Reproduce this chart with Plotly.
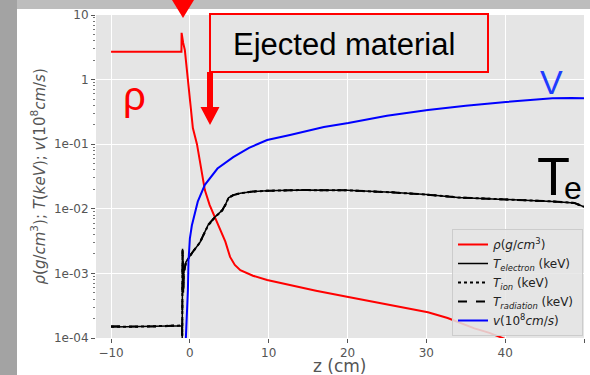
import plotly.graph_objects as go

# ---------------- data ----------------
z_rho = [-10, -1.07, -1.05, -0.98, -0.85, -0.64, -0.25, 0.38, 0.9, 1.4, 1.9, 2.5, 3.2, 3.7,
         4.1, 4.5, 5.1, 5.7, 6.4, 8.0, 9.8, 12.7, 16, 20.1, 25, 30.2, 32.7, 34.5, 36.1,
         38, 39.7, 42, 46, 50]
rho = [2.7, 2.7, 5.3, 4.6, 3.7, 2.87, 1.0, 0.178, 0.1, 0.045, 0.0195, 0.0115, 0.0072, 0.0052,
       0.0039, 0.0031, 0.0018, 0.00135, 0.00112, 0.00092, 0.00079, 0.00066, 0.00054, 0.00043,
       0.00033, 0.00025, 0.000204, 0.00017, 0.000141, 0.00012, 0.0001, 8e-5, 5e-5, 3e-5]

z_T = [-10, -7, -4, -2, -1.0, -0.97, -0.93, -0.9, -0.87, -0.82, -0.78, -0.7, -0.5, 0.3, 1.27,
       2.3, 3.2, 4.1, 4.5, 4.9, 5.5, 6.4, 8, 9.8, 14, 20, 25.5, 30, 34, 38, 42.4, 46, 48.8, 50]
T_electron = [1.48e-4, 1.5e-4, 1.52e-4, 1.55e-4, 1.55e-4, 1.0e-4, 2.4e-3, 2.0e-4, 1.2e-3, 5e-4,
              1.3e-3, 1.1e-3, 1.5e-3, 2.1e-3, 3.0e-3, 5.6e-3, 7.5e-3, 9.5e-3, 1.15e-2, 1.48e-2,
              1.63e-2, 1.74e-2, 1.85e-2, 1.9e-2, 1.95e-2, 1.93e-2, 1.8e-2, 1.66e-2, 1.5e-2,
              1.43e-2, 1.38e-2, 1.3e-2, 1.23e-2, 1.07e-2]
T_ion = [1.5e-4, 1.49e-4, 1.53e-4, 1.54e-4, 1.56e-4, 1.1e-4, 2.2e-3, 2.5e-4, 1.1e-3, 6e-4,
         1.25e-3, 1.15e-3, 1.48e-3, 2.1e-3, 3.0e-3, 5.5e-3, 7.4e-3, 9.4e-3, 1.14e-2, 1.47e-2,
         1.63e-2, 1.74e-2, 1.85e-2, 1.9e-2, 1.95e-2, 1.93e-2, 1.8e-2, 1.66e-2, 1.5e-2,
         1.43e-2, 1.38e-2, 1.3e-2, 1.23e-2, 1.07e-2]
T_radiation = [1.52e-4, 1.51e-4, 1.5e-4, 1.56e-4, 1.54e-4, 1.05e-4, 2.3e-3, 2.2e-4, 1.15e-3,
               5.5e-4, 1.28e-3, 1.12e-3, 1.5e-3, 2.1e-3, 3.0e-3, 5.6e-3, 7.5e-3, 9.5e-3,
               1.15e-2, 1.48e-2, 1.63e-2, 1.74e-2, 1.85e-2, 1.9e-2, 1.95e-2, 1.93e-2, 1.8e-2,
               1.66e-2, 1.5e-2, 1.43e-2, 1.38e-2, 1.3e-2, 1.23e-2, 1.07e-2]

z_v = [-0.55, -0.51, -0.25, -0.17, 0.0, 0.25, 1.0, 1.9, 3.5, 5.5, 7.5, 9.8, 12.7, 17, 20.1,
       25, 30.2, 35, 40.1, 44, 46, 48.4, 50]
v = [5e-5, 1e-4, 5.6e-4, 1.6e-3, 3.5e-3, 5.5e-3, 0.0129, 0.0235, 0.042, 0.063, 0.088, 0.116,
     0.139, 0.185, 0.213, 0.275, 0.339, 0.395, 0.45, 0.50, 0.515, 0.52, 0.515]

x_ticks = [-10, 0, 10, 20, 30, 40, 50]
y_tickvals = [1e-4, 1e-3, 1e-2, 1e-1, 1, 10]
y_ticktext = ["1e-04", "1e-03", "1e-02", "1e-01", "1", "10"]

# ---------------- layout helpers ----------------
W, H = 590, 375
L, R, T, B = 96, 6, 15, 37
PW, PH = W - L - R, H - T - B


def px(x):
    return (x - L) / PW


def py(y):
    return (H - B - y) / PH


fig = go.Figure()
fig.add_trace(go.Scatter(x=z_rho, y=rho, mode="lines",
                         name="<i>ρ</i>(<i>g</i>/<i>cm</i><sup>3</sup>)",
                         line=dict(color="#ff0000", width=2)))
fig.add_trace(go.Scatter(x=z_T, y=T_electron, mode="lines",
                         name="<i>T<sub>electron</sub></i> (keV)&nbsp;",
                         line=dict(color="#000000", width=1.5)))
fig.add_trace(go.Scatter(x=z_T, y=T_ion, mode="lines",
                         name="<i>T<sub>ion</sub></i> (keV)",
                         line=dict(color="#000000", width=2, dash="dot")))
fig.add_trace(go.Scatter(x=z_T, y=T_radiation, mode="lines",
                         name="<i>T<sub>radiation</sub></i> (keV)&nbsp;",
                         line=dict(color="#000000", width=2, dash="dash")))
fig.add_trace(go.Scatter(x=z_v, y=v, mode="lines",
                         name="<i>v</i>(10<sup>8</sup><i>cm</i>/<i>s</i>)",
                         line=dict(color="#0000ff", width=2)))

tickfont = dict(family="DejaVu Sans", size=12, color="#555555")

fig.update_layout(
    width=W, height=H,
    margin=dict(l=L, r=R, t=T, b=B),
    paper_bgcolor="#ffffff",
    plot_bgcolor="#e5e5e5",
    showlegend=True,
    legend=dict(x=px(583), y=py(336), xanchor="right", yanchor="bottom",
                bgcolor="rgba(229,229,229,0.85)", bordercolor="#cccccc", borderwidth=1,
                font=dict(family="DejaVu Sans", size=12, color="#222222"),
                tracegroupgap=0, itemwidth=30),
    xaxis=dict(range=[-11.91, 50], tickvals=x_ticks, showgrid=True, gridcolor="#ffffff",
               gridwidth=1, zeroline=False, ticks="outside", ticklen=4, tickcolor="#555555",
               tickfont=tickfont, showline=False, automargin=False),
    yaxis=dict(type="log", range=[-4, 1], tickvals=y_tickvals, ticktext=y_ticktext,
               showgrid=True, gridcolor="#ffffff", gridwidth=1, zeroline=False,
               ticks="outside", ticklen=4, tickcolor="#555555", tickfont=tickfont,
               minor=dict(ticks="outside", ticklen=2, tickcolor="#777777", showgrid=False,
                          dtick="D1"),
               automargin=False),
)

shapes = []
# slide background bands
shapes.append(dict(type="rect", xref="paper", yref="paper", x0=px(0), x1=px(W), y0=py(9), y1=py(0),
                   fillcolor="#bdbdbd", line=dict(width=0), layer="above"))
shapes.append(dict(type="rect", xref="paper", yref="paper", x0=px(0), x1=px(17), y0=py(H), y1=py(0),
                   fillcolor="#a3a3a3", line=dict(width=0), layer="above"))
# "Ejected material" box
shapes.append(dict(type="rect", xref="paper", yref="paper", x0=px(210), x1=px(488), y0=py(72), y1=py(14),
                   fillcolor="#e5e5e5", line=dict(color="#ff0000", width=2), layer="above"))


def path(points):
    return "M " + " L ".join(f"{px(a):.5f},{py(b):.5f}" for a, b in points) + " Z"


# arrow 1 (head only visible at top)
shapes.append(dict(type="path", xref="paper", yref="paper",
                   path=path([(172, 0), (194, 0), (183, 18)]),
                   fillcolor="#ff0000", line=dict(width=0), layer="above"))
# arrow 2
shapes.append(dict(type="path", xref="paper", yref="paper",
                   path=path([(207, 72), (213, 72), (213, 107), (219.5, 107), (210, 125),
                              (200.5, 107), (207, 107)]),
                   fillcolor="#ff0000", line=dict(width=0), layer="above"))
fig.update_layout(shapes=shapes)

ann_font = "Liberation Sans, Arial, sans-serif"
annotations = [
    dict(text="z (cm)", x=px(340), y=py(366), xref="paper", yref="paper",
         showarrow=False, xanchor="center", yanchor="middle",
         font=dict(family="DejaVu Sans", size=17, color="#555555")),
    dict(text="<i>ρ</i>(<i>g</i>/<i>cm</i><sup>3</sup>); <i>T</i>(<i>keV</i>); "
              "<i>v</i>(10<sup>8</sup><i>cm</i>/<i>s</i>)",
         x=px(38), y=py(176.5), xref="paper", yref="paper", textangle=-90,
         showarrow=False, xanchor="center", yanchor="middle",
         font=dict(family="DejaVu Sans", size=15, color="#555555")),
    dict(text="Ejected material", x=px(344), y=py(44), xref="paper", yref="paper",
         showarrow=False, xanchor="center", yanchor="middle",
         font=dict(family=ann_font, size=31, color="#000000")),
    dict(text="ρ", x=px(134), y=py(96), xref="paper", yref="paper",
         showarrow=False, xanchor="center", yanchor="middle",
         font=dict(family=ann_font, size=40, color="#ff0000")),
    dict(text="V", x=px(551), y=py(82), xref="paper", yref="paper",
         showarrow=False, xanchor="center", yanchor="middle",
         font=dict(family=ann_font, size=34, color="#1e3cff")),
    dict(text="T", x=px(553), y=py(176), xref="paper", yref="paper",
         showarrow=False, xanchor="center", yanchor="middle",
         font=dict(family=ann_font, size=54, color="#000000")),
    dict(text="e", x=px(573), y=py(188), xref="paper", yref="paper",
         showarrow=False, xanchor="center", yanchor="middle",
         font=dict(family=ann_font, size=32, color="#000000")),
]
fig.update_layout(annotations=annotations)

fig.write_html("out.html", config={"displayModeBar": False},
               post_script="document.body.style.margin='0';document.body.style.padding='0';"
                           "document.body.style.overflow='hidden';")
